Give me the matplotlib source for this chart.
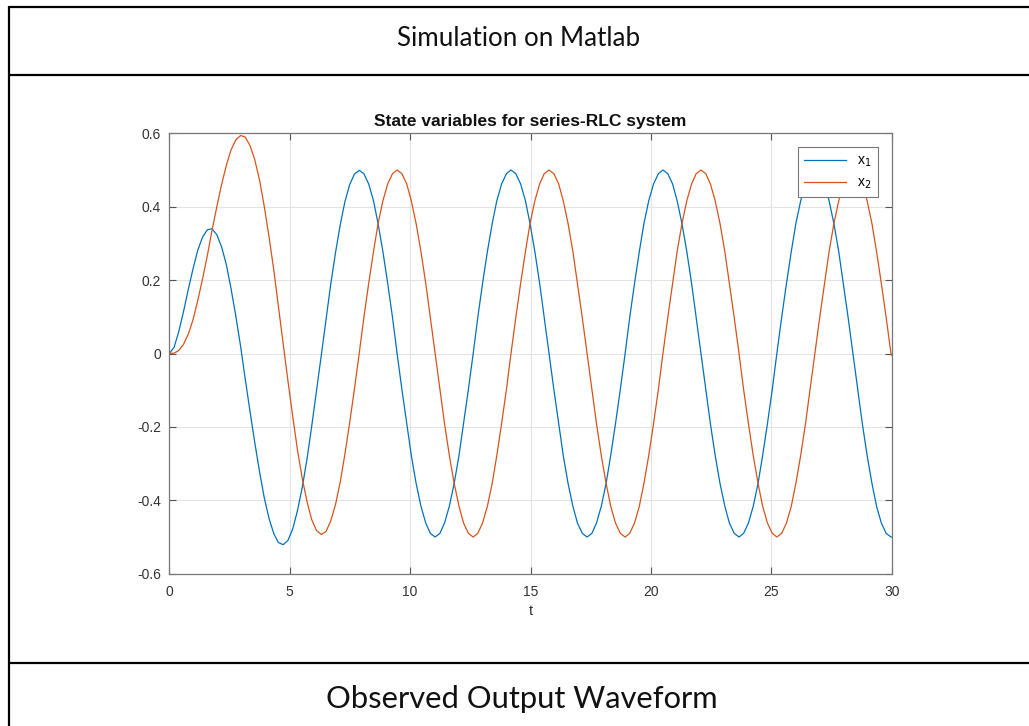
import matplotlib
matplotlib.use("Agg")
import matplotlib.pyplot as plt

plt.rcParams['font.family'] = ['Liberation Sans', 'DejaVu Sans']
plt.rcParams['axes.unicode_minus'] = False

# values (t in seconds)
t = [0, 0.20, 0.39, 0.59, 0.79, 0.99, 1.18, 1.38, 1.58, 1.77,
     1.97, 2.17, 2.37, 2.56, 2.76, 2.96, 3.15, 3.35, 3.55, 3.75,
     3.94, 4.14, 4.34, 4.53, 4.73, 4.93, 5.13, 5.32, 5.52, 5.72,
     5.91, 6.11, 6.31, 6.51, 6.70, 6.90, 7.10, 7.29, 7.49, 7.69,
     7.89, 8.08, 8.28, 8.48, 8.67, 8.87, 9.07, 9.27, 9.46, 9.66,
     9.86, 10.05, 10.25, 10.45, 10.65, 10.84, 11.04, 11.24, 11.43, 11.63,
     11.83, 12.03, 12.22, 12.42, 12.62, 12.81, 13.01, 13.21, 13.41, 13.60,
     13.80, 14.00, 14.19, 14.39, 14.59, 14.79, 14.98, 15.18, 15.38, 15.57,
     15.77, 15.97, 16.17, 16.36, 16.56, 16.76, 16.95, 17.15, 17.35, 17.55,
     17.74, 17.94, 18.14, 18.33, 18.53, 18.73, 18.93, 19.12, 19.32, 19.52,
     19.71, 19.91, 20.11, 20.31, 20.50, 20.70, 20.90, 21.09, 21.29, 21.49,
     21.69, 21.88, 22.08, 22.28, 22.47, 22.67, 22.87, 23.07, 23.26, 23.46,
     23.66, 23.85, 24.05, 24.25, 24.45, 24.64, 24.84, 25.04, 25.23, 25.43,
     25.63, 25.83, 26.02, 26.22, 26.42, 26.61, 26.81, 27.01, 27.21, 27.40,
     27.60, 27.80, 27.99, 28.19, 28.39, 28.59, 28.78, 28.98, 29.18, 29.37,
     29.57, 29.77, 29.97, 30.00]

x1 = [0, 0.017, 0.059, 0.114, 0.175, 0.232, 0.281, 0.317, 0.337, 0.340,
      0.324, 0.291, 0.242, 0.178, 0.103, 0.020, -0.068, -0.157, -0.243, -0.323,
      -0.392, -0.449, -0.491, -0.515, -0.521, -0.509, -0.477, -0.429, -0.365, -0.287,
      -0.200, -0.104, -0.006, 0.093, 0.187, 0.274, 0.351, 0.413, 0.460, 0.489,
      0.499, 0.490, 0.462, 0.416, 0.354, 0.278, 0.191, 0.098, 0, -0.098,
      -0.191, -0.278, -0.354, -0.416, -0.462, -0.490, -0.500, -0.490, -0.462, -0.416,
      -0.354, -0.278, -0.191, -0.098, 0, 0.098, 0.191, 0.278, 0.354, 0.416,
      0.462, 0.490, 0.500, 0.490, 0.462, 0.416, 0.354, 0.278, 0.191, 0.098,
      0, -0.098, -0.191, -0.278, -0.354, -0.416, -0.462, -0.490, -0.500, -0.490,
      -0.462, -0.416, -0.354, -0.278, -0.191, -0.098, 0, 0.098, 0.191, 0.278,
      0.354, 0.416, 0.462, 0.490, 0.500, 0.490, 0.462, 0.416, 0.354, 0.278,
      0.191, 0.098, 0, -0.098, -0.191, -0.278, -0.354, -0.416, -0.462, -0.490,
      -0.500, -0.490, -0.462, -0.416, -0.354, -0.278, -0.191, -0.098, 0, 0.098,
      0.191, 0.278, 0.354, 0.416, 0.462, 0.490, 0.500, 0.490, 0.462, 0.416,
      0.354, 0.278, 0.191, 0.098, 0, -0.098, -0.191, -0.278, -0.354, -0.416,
      -0.462, -0.490, -0.500, -0.500]

x2 = [0, 0.001, 0.008, 0.025, 0.053, 0.093, 0.144, 0.203, 0.267, 0.334,
      0.399, 0.460, 0.513, 0.554, 0.582, 0.594, 0.590, 0.567, 0.528, 0.472,
      0.402, 0.319, 0.227, 0.128, 0.026, -0.076, -0.173, -0.262, -0.340, -0.404,
      -0.452, -0.482, -0.493, -0.485, -0.457, -0.412, -0.350, -0.275, -0.189, -0.096,
      0.002, 0.098, 0.191, 0.278, 0.354, 0.416, 0.462, 0.490, 0.500, 0.490,
      0.462, 0.416, 0.354, 0.278, 0.191, 0.098, 0, -0.098, -0.191, -0.278,
      -0.354, -0.416, -0.462, -0.490, -0.500, -0.490, -0.462, -0.416, -0.354, -0.278,
      -0.191, -0.098, 0, 0.098, 0.191, 0.278, 0.354, 0.416, 0.462, 0.490,
      0.500, 0.490, 0.462, 0.416, 0.354, 0.278, 0.191, 0.098, 0, -0.098,
      -0.191, -0.278, -0.354, -0.416, -0.462, -0.490, -0.500, -0.490, -0.462, -0.416,
      -0.354, -0.278, -0.191, -0.098, 0, 0.098, 0.191, 0.278, 0.354, 0.416,
      0.462, 0.490, 0.500, 0.490, 0.462, 0.416, 0.354, 0.278, 0.191, 0.098,
      0, -0.098, -0.191, -0.278, -0.354, -0.416, -0.462, -0.490, -0.500, -0.490,
      -0.462, -0.416, -0.354, -0.278, -0.191, -0.098, 0, 0.098, 0.191, 0.278,
      0.354, 0.416, 0.462, 0.490, 0.500, 0.490, 0.462, 0.416, 0.354, 0.278,
      0.191, 0.098, 0, -0.005]

xticks = [0, 5, 10, 15, 20, 25, 30]
yticks = [-0.6, -0.4, -0.2, 0, 0.2, 0.4, 0.6]
ytick_labels = ['-0.6', '-0.4', '-0.2', '0', '0.2', '0.4', '0.6']

header = "Simulation on Matlab"
footer = "Observed Output Waveform"
plot_title = "State variables for series-RLC system"

W, H = 1029, 726
fig = plt.figure(figsize=(W / 100, H / 100), dpi=100)

# table-like frame around the plot (pixel coords)
frame = fig.add_axes([0, 0, 1, 1])
frame.set_xlim(0, W)
frame.set_ylim(H, 0)
frame.axis('off')
for y in (7, 74.5, 662.5):
    frame.plot([9, W], [y, y], color='black', lw=1.6, solid_capstyle='butt')
frame.plot([9, 9], [6.2, H], color='black', lw=1.6, solid_capstyle='butt')
frame.text(519, 38, header, ha='center', va='center', fontsize=18.7,
           family=['Lato', 'DejaVu Sans'], color='#111111')
frame.text(522, 699, footer, ha='center', va='center', fontsize=22.2,
           family=['Lato', 'DejaVu Sans'], color='#111111')

# matlab-style axes
ax = fig.add_axes([169.3 / W, 1 - 573.7 / H, 722.4 / W, 440.4 / H])
ax.plot(t, x1, color='#0072BD', lw=0.9, label='x$_1$')
ax.plot(t, x2, color='#D95319', lw=0.9, label='x$_2$')
ax.set_xlim(0, 30)
ax.set_ylim(-0.6, 0.6)
ax.set_xticks(xticks)
ax.set_xticklabels([str(v) for v in xticks])
ax.set_yticks(yticks)
ax.set_yticklabels(ytick_labels)
ax.grid(True, color='#e3e3e3', lw=0.8)
ax.set_axisbelow(True)
ax.tick_params(direction='in', top=True, right=True, length=5, width=0.8,
               colors='#555555', labelcolor='#333333', labelsize=10)
ax.tick_params(axis='x', pad=8)
ax.tick_params(axis='y', pad=6)
for s in ax.spines.values():
    s.set_color('#777777')
    s.set_linewidth(0.9)
ax.set_xlabel('t', fontsize=10.5, color='#333333', labelpad=4)
ax.set_title(plot_title, fontsize=12.5, fontweight='bold', color='#111111', pad=5)

leg = ax.legend(loc='upper right', fontsize=10, fancybox=False, framealpha=1,
                edgecolor='#777777', borderaxespad=1.0, handlelength=3.0,
                labelspacing=0.5, borderpad=0.45)
leg.get_frame().set_linewidth(0.8)

fig.savefig('out.png', dpi=100)
